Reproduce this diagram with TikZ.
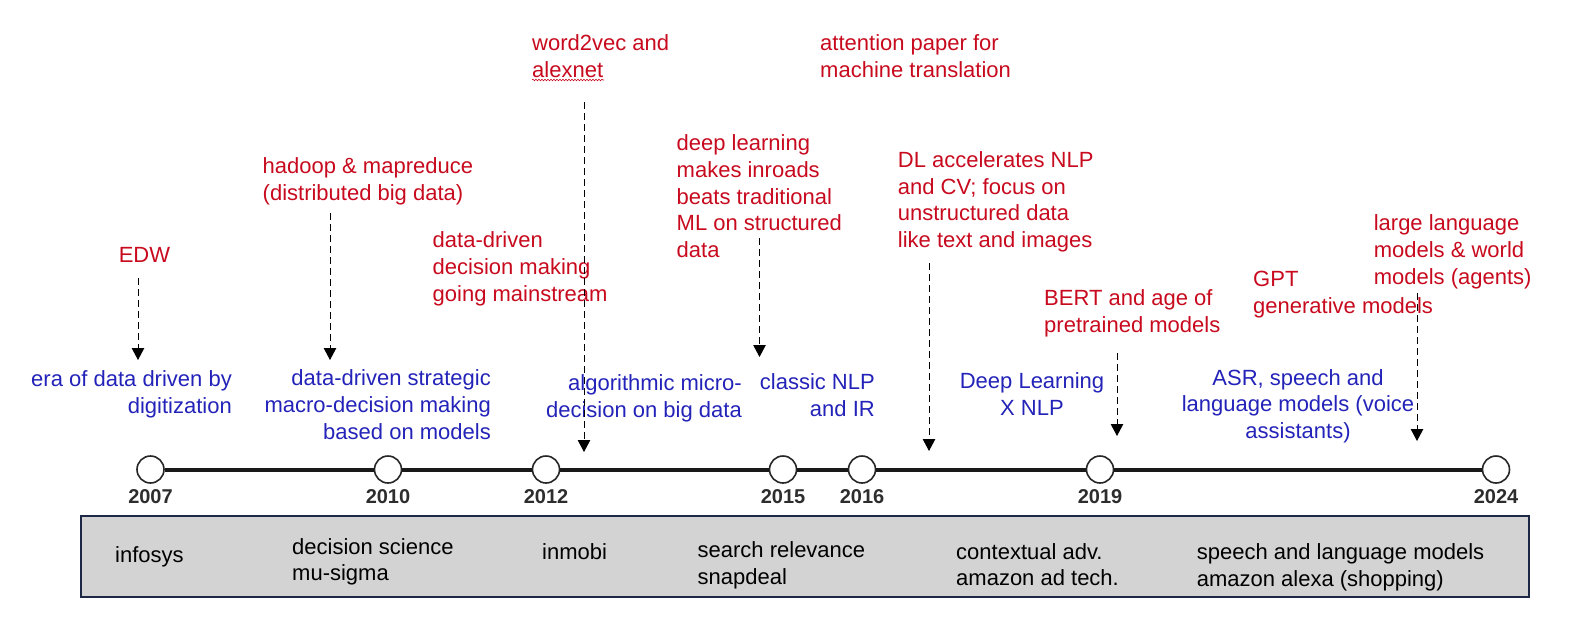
\documentclass[tikz,border=0pt]{standalone}
\usepackage{fontspec}
\setmainfont{Liberation Sans}
\usetikzlibrary{arrows.meta,decorations.pathmorphing}
\definecolor{tred}{RGB}{200,10,30}
\definecolor{tblue}{RGB}{35,35,185}
\definecolor{boxgray}{RGB}{211,211,211}
\definecolor{boxedge}{RGB}{28,40,70}
\definecolor{yeargray}{RGB}{45,45,45}
\begin{document}
\begin{tikzpicture}[x=1pt,y=-1pt,
  txt/.style={inner sep=0pt, font=\fontsize{22}{26.7}\selectfont},
  redtxt/.style={txt, text=tred, align=left, anchor=north west},
  bluer/.style={txt, text=tblue, align=right, anchor=north east},
  bluec/.style={txt, text=tblue, align=center, anchor=north},
  blktxt/.style={txt, text=black, align=left, anchor=north west},
  yearlbl/.style={font=\fontsize{20}{24}\selectfont\bfseries, text=yeargray, anchor=base, inner sep=0pt},
  milestone/.style={circle, draw=black!85, line width=1.6pt, fill=white, minimum size=27pt, inner sep=0pt},
  evarrow/.style={draw=black, line width=1pt, dash pattern=on 7pt off 4pt, -{Triangle[length=12pt,width=12.5pt]}},
  axis/.style={draw=black!90, line width=4pt}
]
\useasboundingbox (0,0) rectangle (1592,624);

% company box
\node[draw=boxedge, line width=2pt, fill=boxgray, minimum width=1448pt, minimum height=81pt, inner sep=0pt] (box) at (805,556.5) {};

% milestones
\node[milestone] (c2007) at (150.5,469.5) {};
\node[milestone] (c2010) at (388,469.5) {};
\node[milestone] (c2012) at (546,469.5) {};
\node[milestone] (c2015) at (783,469.5) {};
\node[milestone] (c2016) at (862,469.5) {};
\node[milestone] (c2019) at (1100,469.5) {};
\node[milestone] (c2024) at (1496,469.5) {};
\draw[axis] (c2007) -- (c2010);
\draw[axis] (c2010) -- (c2012);
\draw[axis] (c2012) -- (c2015);
\draw[axis] (c2015) -- (c2016);
\draw[axis] (c2016) -- (c2019);
\draw[axis] (c2019) -- (c2024);

% years
\node[yearlbl] (y2007) at (150.5,503) {2007};
\node[yearlbl] (y2010) at (388,503) {2010};
\node[yearlbl] (y2012) at (546,503) {2012};
\node[yearlbl] (y2015) at (783,503) {2015};
\node[yearlbl] (y2016) at (862,503) {2016};
\node[yearlbl] (y2019) at (1100,503) {2019};
\node[yearlbl] (y2024) at (1496,503) {2024};

% red events
\node[redtxt] (edw) at (118.6,244) {\strut EDW};
\node[redtxt] (hadoop) at (262.5,155) {\strut hadoop \& mapreduce\\(distributed big data)};
\node[redtxt] (ddm) at (432.5,229) {\strut data-driven\\decision making\\going mainstream};
\node[redtxt] (w2v) at (532,32) {\strut word2vec and\\alexnet};
\node[redtxt] (attn) at (820,32) {\strut attention paper for\\machine translation};
\node[redtxt] (deep) at (676.5,132) {\strut deep learning\\makes inroads\\beats traditional\\ML on structured\\data};
\node[redtxt] (dl) at (897.7,148.7) {\strut DL accelerates NLP\\and CV; focus on\\unstructured data\\like text and images};
\node[redtxt] (bert) at (1044,287) {\strut BERT and age of\\pretrained models};
\node[redtxt] (gpt) at (1253,267.7) {\strut GPT\\generative models};
\node[redtxt] (llm) at (1373.6,212) {\strut large language\\models \& world\\models (agents)};

% spell-check underline
\coordinate (ulA) at (532,80);
\coordinate (ulB) at (604,80);
\draw[tred, line width=0.6pt, decorate, decoration={snake, amplitude=0.8pt, segment length=3pt}] (ulA) -- (ulB);

% blue eras
\node[bluer] (era) at (232,367.7) {\strut era of data driven by\\digitization};
\node[bluer] (strat) at (491,367) {\strut data-driven strategic\\macro-decision making\\based on models};
\node[bluer] (algo) at (742,372) {\strut algorithmic micro-\\decision on big data};
\node[bluer] (cnlp) at (875,370.5) {\strut classic NLP\\and IR};
\node[bluec] (dlx) at (1032,369.7) {\strut Deep Learning\\X NLP};
\node[bluec] (asr) at (1298,366.3) {\strut ASR, speech and\\language models (voice\\assistants)};

% companies
\node[blktxt] (infosys) at (115,543.7) {\strut infosys};
\node[blktxt] (musigma) at (292,535.3) {\strut decision science\\mu-sigma};
\node[blktxt] (inmobi) at (542,541) {\strut inmobi};
\node[blktxt] (snapdeal) at (697.5,538.7) {\strut search relevance\\snapdeal};
\node[blktxt] (adtech) at (956,540.4) {\strut contextual adv.\\amazon ad tech.};
\node[blktxt] (alexa) at (1196.6,541) {\strut speech and language models\\amazon alexa (shopping)};

% arrows
\coordinate (aEdwS) at (138,278);   \coordinate (aEdwE) at (138,360);
\coordinate (aHadS) at (330,213);   \coordinate (aHadE) at (330,360);
\coordinate (aW2vS) at (584,102);   \coordinate (aW2vE) at (584,452);
\coordinate (aDeepS) at (759.5,238); \coordinate (aDeepE) at (759.5,357);
\coordinate (aDlS) at (929,263);    \coordinate (aDlE) at (929,451);
\coordinate (aBertS) at (1117,353); \coordinate (aBertE) at (1117,436);
\coordinate (aLlmS) at (1417,293);  \coordinate (aLlmE) at (1417,441);
\draw[evarrow] (aEdwS) -- (aEdwE);
\draw[evarrow] (aHadS) -- (aHadE);
\draw[evarrow] (aW2vS) -- (aW2vE);
\draw[evarrow] (aDeepS) -- (aDeepE);
\draw[evarrow] (aDlS) -- (aDlE);
\draw[evarrow] (aBertS) -- (aBertE);
\draw[evarrow] (aLlmS) -- (aLlmE);
\end{tikzpicture}
\end{document}
